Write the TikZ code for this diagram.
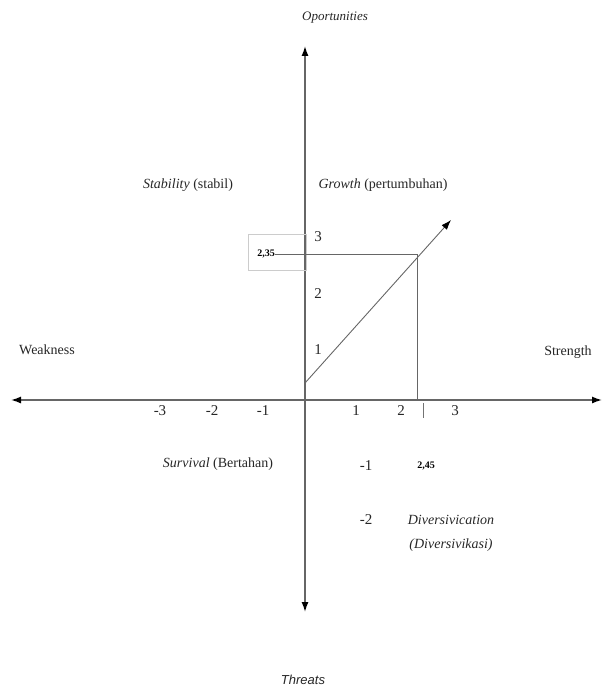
\documentclass[tikz,border=0pt]{standalone}
\usepackage{fontspec}
\setmainfont{Liberation Serif}
\newfontfamily\arialfont{Liberation Sans}
\usetikzlibrary{arrows.meta}
\begin{document}
\begin{tikzpicture}[x=1pt,y=-1pt,
  axis/.style={line width=1.4pt,draw=black!60,-{Latex[length=10pt,width=7pt,color=black]}},
  thin/.style={line width=0.9pt,draw=black!60},
  lbl/.style={font=\fontsize{14}{16}\selectfont,inner sep=0pt,text=black!85},
  num/.style={font=\fontsize{15}{17}\selectfont,inner sep=0pt,text=black!85}]
\useasboundingbox (0,0) rectangle (603,693);
% axes
\coordinate (O) at (305,400);
\coordinate (top) at (305,46);
\coordinate (bot) at (305,612);
\coordinate (left) at (11,400);
\coordinate (right) at (602,400);
\draw[axis] (O) -- (top);
\draw[axis] (O) -- (bot);
\draw[axis] (O) -- (left);
\draw[axis] (O) -- (right);
% diagonal
\coordinate (d0) at (305,383);
\coordinate (d1) at (451,220);
\draw[thin,-{Latex[length=10pt,width=7pt,color=black]}] (d0) -- (d1);
% point
\coordinate (P) at (417,254);
\coordinate (Px) at (417,400);
\node[draw=black!20,line width=0.6pt,minimum width=58pt,minimum height=36pt,inner sep=0pt] (box) at (277,252) {};
\node[font=\bfseries\fontsize{10}{12}\selectfont,inner sep=0pt] (v235) at (266,254) {2,35};
\draw[thin] (v235.east) -- (P);
\draw[thin] (P) -- (Px);
\coordinate (t1) at (423,403);
\coordinate (t2) at (423,418);
\draw[line width=0.8pt,draw=black!55] (t1) -- (t2);
% labels
\node[lbl,font=\itshape\fontsize{13}{15}\selectfont] (op) at (335,18) {Oportunities};
\node[lbl] (stab) at (188,185) {\textit{Stability} (stabil)};
\node[lbl] (grow) at (383,185) {\textit{Growth} (pertumbuhan)};
\node[num] (y3) at (318,237) {3};
\node[num] (y2) at (318,294) {2};
\node[num] (y1) at (318,350) {1};
\node[lbl] (weak) at (47,350) {Weakness};
\node[lbl] (str) at (568,352) {Strength};
\node[num] (xm3) at (160,411) {-3};
\node[num] (xm2) at (212,411) {-2};
\node[num] (xm1) at (263,411) {-1};
\node[num] (x1) at (356,411) {1};
\node[num] (x2) at (401,411) {2};
\node[num] (x3) at (455,411) {3};
\node[lbl] (surv) at (218,464) {\textit{Survival} (Bertahan)};
\node[num] (ym1) at (366,466) {-1};
\node[font=\bfseries\fontsize{10}{12}\selectfont,inner sep=0pt] (v245) at (426,466) {2,45};
\node[num] (ym2) at (366,520) {-2};
\node[lbl,font=\itshape\fontsize{14}{16}\selectfont] (div1) at (451,520) {Diversivication};
\node[lbl,font=\itshape\fontsize{14}{16}\selectfont] (div2) at (451,545) {(Diversivikasi)};
\node[lbl,font=\arialfont\itshape\fontsize{13}{15}\selectfont] (thr) at (303,680) {Threats};
\end{tikzpicture}
\end{document}
